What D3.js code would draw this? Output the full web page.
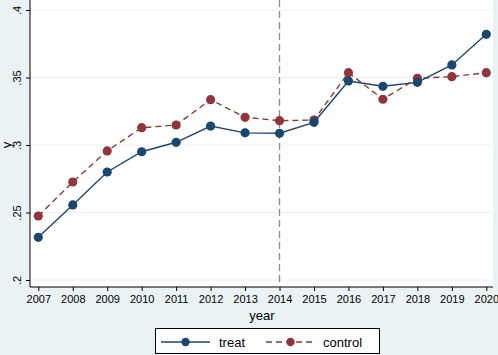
<!DOCTYPE html>
<html>
<head>
<meta charset="utf-8">
<script src="https://cdn.jsdelivr.net/npm/d3@7"></script>
<style>
  body { margin: 0; background: #eaf2f3; }
  svg { display: block; font-family: "Liberation Sans", Arial, sans-serif; }
</style>
</head>
<body>
<div id="chart"></div>
<script>
const years = [2007, 2008, 2009, 2010, 2011, 2012, 2013, 2014, 2015, 2016, 2017, 2018, 2019, 2020];
const treat = [0.2316, 0.2556, 0.2800, 0.2950, 0.3020, 0.3140, 0.3090, 0.3087, 0.3168, 0.3474, 0.3435, 0.3464, 0.3593, 0.3820];
const control = [0.2474, 0.2726, 0.2956, 0.3128, 0.3148, 0.3336, 0.3205, 0.3180, 0.3185, 0.3536, 0.3339, 0.3494, 0.3506, 0.3536];
const yTicks = [0.2, 0.25, 0.3, 0.35, 0.4];
const yTickLabels = [".2", ".25", ".3", ".35", ".4"];
const eventYear = 2014;

const W = 498, H = 355;
const PLOT = { LEFT: 30, RIGHT: 493, TOP: 0, BOTTOM: 287 };
const BLUE = "#1a476f", RED = "#90353b";

const svg = d3.select("#chart").append("svg")
  .attr("width", W).attr("height", H);

svg.append("rect").attr("width", W).attr("height", H).attr("fill", "#eaf2f3");
svg.append("rect")
  .attr("x", PLOT.LEFT).attr("y", PLOT.TOP)
  .attr("width", PLOT.RIGHT - PLOT.LEFT).attr("height", PLOT.BOTTOM - PLOT.TOP)
  .attr("fill", "white");

const x = d3.scaleLinear().domain([2007, 2020]).range([38.3, 486.3]);
const y = d3.scaleLinear().domain([0.2, 0.4]).range([280, 10]);

// grid lines
svg.append("g").selectAll("line").data(yTicks).enter().append("line")
  .attr("x1", PLOT.LEFT).attr("x2", PLOT.RIGHT)
  .attr("y1", d => y(d)).attr("y2", d => y(d))
  .attr("stroke", "#eaf2f3").attr("stroke-width", 1);

// axes
const yAxis = svg.append("g")
  .attr("transform", `translate(${PLOT.LEFT},0)`)
  .call(d3.axisLeft(y).tickValues(yTicks).tickSize(4)
    .tickFormat((d, i) => yTickLabels[i]));
yAxis.select(".domain").attr("d", `M0,${PLOT.TOP}V${PLOT.BOTTOM}`).attr("stroke", "#000");
yAxis.selectAll("line").attr("stroke", "#000");
yAxis.selectAll("text")
  .attr("transform", "rotate(-90)")
  .attr("x", 0).attr("y", -13)
  .attr("dy", "0.35em")
  .attr("text-anchor", "middle")
  .attr("font-size", 11).attr("fill", "#000");

const xAxis = svg.append("g")
  .attr("transform", `translate(0,${PLOT.BOTTOM})`)
  .call(d3.axisBottom(x).tickValues(years).tickSize(4).tickFormat(d3.format("d")));
xAxis.select(".domain").attr("d", `M${PLOT.LEFT},0H${PLOT.RIGHT}`).attr("stroke", "#000");
xAxis.selectAll("line").attr("stroke", "#000");
xAxis.selectAll("text").attr("y", 8).attr("font-size", 11).attr("fill", "#000");

// axis titles
svg.append("text")
  .attr("x", 262).attr("y", 320)
  .attr("text-anchor", "middle").attr("font-size", 13).text("year");
svg.append("text")
  .attr("transform", `translate(11,145) rotate(-90)`)
  .attr("text-anchor", "middle")
  .attr("font-size", 13).text("y");

// vertical reference line
svg.append("line")
  .attr("x1", x(eventYear)).attr("x2", x(eventYear))
  .attr("y1", PLOT.TOP).attr("y2", PLOT.BOTTOM)
  .attr("stroke", "#8c8c8c").attr("stroke-width", 1.3)
  .attr("stroke-dasharray", "7,4");

const line = d3.line().x((d, i) => x(years[i])).y(d => y(d));

function drawSeries(values, color, dash) {
  svg.append("path").datum(values)
    .attr("d", line).attr("fill", "none")
    .attr("stroke", color).attr("stroke-width", 1.4)
    .attr("stroke-dasharray", dash);
  svg.append("g").selectAll("circle").data(values).enter().append("circle")
    .attr("cx", (d, i) => x(years[i])).attr("cy", d => y(d))
    .attr("r", 4.6).attr("fill", color);
}
drawSeries(control, RED, "6,4");
drawSeries(treat, BLUE, null);

// legend
const lg = svg.append("g");
lg.append("rect")
  .attr("x", 155.5).attr("y", 328.5).attr("width", 224).attr("height", 25)
  .attr("fill", "white").attr("stroke", "#000").attr("stroke-width", 1);
const legendItems = [
  { name: "treat", color: BLUE, dash: null, x0: 161, x1: 210, tx: 219 },
  { name: "control", color: RED, dash: "6,4", x0: 266, x1: 315, tx: 323 }
];
legendItems.forEach(it => {
  lg.append("line")
    .attr("x1", it.x0).attr("x2", it.x1).attr("y1", 342).attr("y2", 342)
    .attr("stroke", it.color).attr("stroke-width", 1.4)
    .attr("stroke-dasharray", it.dash);
  lg.append("circle").attr("cx", (it.x0 + it.x1) / 2).attr("cy", 342)
    .attr("r", 4.2).attr("fill", it.color);
  lg.append("text").attr("x", it.tx).attr("y", 342).attr("dy", "0.35em")
    .attr("font-size", 13).text(it.name);
});
</script>
</body>
</html>
